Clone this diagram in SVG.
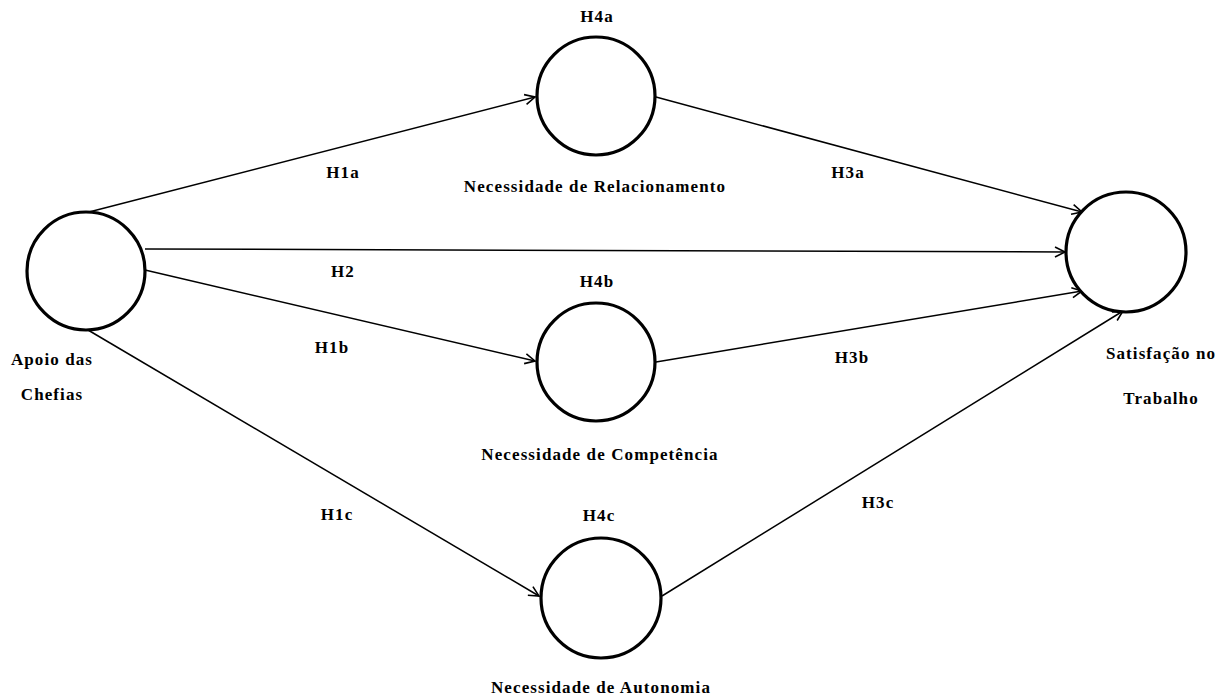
<svg xmlns="http://www.w3.org/2000/svg" width="1225" height="700" viewBox="0 0 1225 700">
<style>
.node{fill:#fff;stroke:#000;stroke-width:3.2}
.lbl{font-family:"Liberation Serif","Times New Roman",serif;font-weight:bold;font-size:17px;fill:#000;text-anchor:middle;letter-spacing:1.1px}
.edge{stroke:#000;stroke-width:1.5;fill:none;marker-end:url(#arr)}
</style>
<defs>
<marker id="arr" markerUnits="userSpaceOnUse" markerWidth="14" markerHeight="14" refX="11" refY="6" orient="auto">
<path d="M1,1 L11,6 L1,11" fill="none" stroke="#000" stroke-width="1.6"/>
</marker>
</defs>
<rect width="1225" height="700" fill="#fff"/>
<g id="connectors">
<line class="edge" x1="89" y1="212" x2="535" y2="97"/>
<line class="edge" x1="656" y1="97" x2="1082" y2="212"/>
<line class="edge" x1="145" y1="249" x2="1065" y2="252"/>
<line class="edge" x1="145" y1="270" x2="535" y2="361"/>
<line class="edge" x1="656" y1="362" x2="1082" y2="291"/>
<line class="edge" x1="88" y1="330" x2="539" y2="596"/>
<line class="edge" x1="662" y1="596" x2="1123" y2="311"/>
<text class="lbl" x="343" y="178">H1a</text>
<text class="lbl" x="343" y="277">H2</text>
<text class="lbl" x="332" y="353">H1b</text>
<text class="lbl" x="337" y="520">H1c</text>
<text class="lbl" x="848" y="178">H3a</text>
<text class="lbl" x="852" y="363">H3b</text>
<text class="lbl" x="878" y="508">H3c</text>
</g>
<g id="apoio">
<circle class="node" cx="86" cy="271" r="59"/>
<text class="lbl" x="52" y="365">Apoio das</text>
<text class="lbl" x="52" y="400">Chefias</text>
</g>
<g id="relacionamento">
<circle class="node" cx="596" cy="96" r="59"/>
<text class="lbl" x="597" y="22">H4a</text>
<text class="lbl" x="595" y="192">Necessidade de Relacionamento</text>
</g>
<g id="competencia">
<circle class="node" cx="596" cy="362" r="59"/>
<text class="lbl" x="597" y="287">H4b</text>
<text class="lbl" x="600" y="460">Necessidade de Competência</text>
</g>
<g id="autonomia">
<circle class="node" cx="601" cy="598" r="60"/>
<text class="lbl" x="599" y="521">H4c</text>
<text class="lbl" x="601" y="693">Necessidade de Autonomia</text>
</g>
<g id="satisfacao">
<circle class="node" cx="1126" cy="252" r="60"/>
<text class="lbl" x="1161" y="359">Satisfação no</text>
<text class="lbl" x="1161" y="404">Trabalho</text>
</g>
</svg>
